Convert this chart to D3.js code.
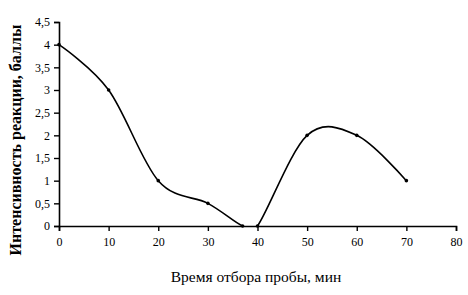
<!DOCTYPE html>
<html>
<head>
<meta charset="utf-8">
<script src="https://cdn.jsdelivr.net/npm/d3@7"></script>
<style>
  body { margin: 0; background: #fff; }
  svg text { font-family: "Liberation Serif", "DejaVu Serif", serif; fill: #000; }
</style>
</head>
<body>
<div id="viz"></div>
<script>
const times = [0, 10, 20, 30, 37, 40, 50, 60, 70];
const scores = [4, 3, 1, 0.5, 0, 0, 2, 2, 1];
const xTicks = [0, 10, 20, 30, 40, 50, 60, 70, 80];
const yTicks = [0, 0.5, 1, 1.5, 2, 2.5, 3, 3.5, 4, 4.5];
const xTitle = 'Время отбора пробы, мин';
const yTitle = 'Интенсивность реакции, баллы';

const width = 468;
const height = 295;
const margin = { left: 59, right: 12, top: 22, bottom: 69 };

const svg = d3
  .select('#viz')
  .append('svg')
  .attr('width', width)
  .attr('height', height);

const x = d3.scaleLinear().domain([0, 80]).range([margin.left, width - margin.right]);
const y = d3.scaleLinear().domain([0, 4.5]).range([height - margin.bottom, margin.top]);

const fmt = d => String(d).replace('.', ',');

// smoothed line, cut at the zero level like the original
svg
  .append('clipPath')
  .attr('id', 'plot-clip')
  .append('rect')
  .attr('x', 0)
  .attr('y', 0)
  .attr('width', width)
  .attr('height', y(0) + 0.8);

const line = d3
  .line()
  .x((d, i) => x(times[i]))
  .y(d => y(d))
  .curve(d3.curveCardinal.tension(0));

svg
  .append('path')
  .datum(scores)
  .attr('d', line)
  .attr('clip-path', 'url(#plot-clip)')
  .attr('fill', 'none')
  .attr('stroke', '#000')
  .attr('stroke-width', 1.6);

svg
  .selectAll('circle.pt')
  .data(scores)
  .enter()
  .append('circle')
  .attr('class', 'pt')
  .attr('cx', (d, i) => x(times[i]))
  .attr('cy', d => y(d))
  .attr('r', 1.8)
  .attr('fill', '#000');

const xAxis = svg
  .append('g')
  .attr('transform', `translate(0,${y(0)})`)
  .call(d3.axisBottom(x).tickValues(xTicks).tickSize(5).tickPadding(6).tickFormat(fmt));

const yAxis = svg
  .append('g')
  .attr('transform', `translate(${x(0)},0)`)
  .call(d3.axisLeft(y).tickValues(yTicks).tickSize(5).tickPadding(4).tickFormat(fmt));

[xAxis, yAxis].forEach(g => {
  g.select('.domain').attr('stroke', '#000').attr('stroke-width', 1.6);
  g.selectAll('.tick line').attr('stroke', '#000').attr('stroke-width', 1.4);
  g.selectAll('.tick text')
    .style('font-family', '"Liberation Serif", serif')
    .style('font-size', '12px')
    .attr('fill', '#222');
});

svg
  .append('text')
  .attr('x', 256)
  .attr('y', 282)
  .attr('text-anchor', 'middle')
  .style('font-size', '15.5px')
  .text(xTitle);

svg
  .append('text')
  .attr('transform', `translate(21,${140}) rotate(-90)`)
  .attr('text-anchor', 'middle')
  .style('font-size', '16px')
  .style('font-weight', 'bold')
  .text(yTitle);
</script>
</body>
</html>
